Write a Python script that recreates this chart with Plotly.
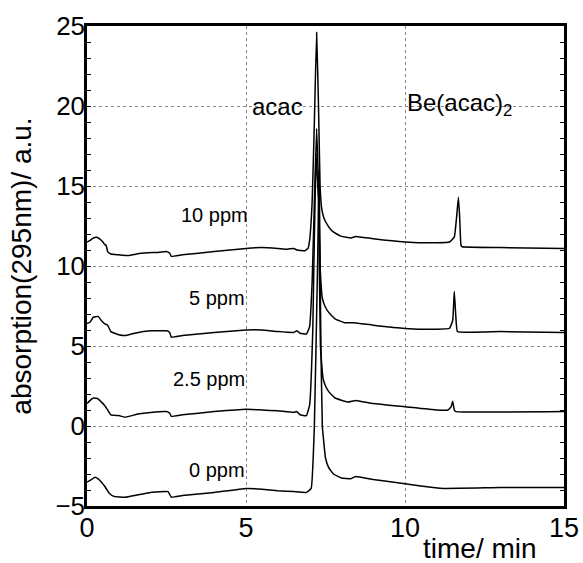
import plotly.graph_objects as go

# retention time (min) / absorption (a.u.)
t_10ppm = [0.0, 0.1, 0.2, 0.3, 0.4, 0.5, 0.55, 0.6, 0.65, 0.75, 1.0, 1.3, 1.7, 2.2, 2.5, 2.6, 2.65,
           3.0, 4.0, 5.0, 5.5, 6.0, 6.3, 6.5, 6.6, 6.85, 6.95, 7.0, 7.08, 7.15, 7.22, 7.28, 7.33,
           7.38, 7.45, 7.55, 7.7, 7.85, 8.0, 8.3, 8.45, 9.0, 10.0, 11.0, 11.4, 11.55, 11.62,
           11.68, 11.72, 11.76, 11.8, 13.0, 15.0]
y_10ppm = [11.5, 11.6, 11.75, 11.8, 11.7, 11.5, 11.35, 11.3, 10.9, 10.75, 10.7, 10.65, 10.8, 10.85,
           10.9, 10.8, 10.6, 10.7, 10.9, 11.1, 11.15, 11.1, 11.05, 11.1, 11.0, 10.95, 11.1, 11.6,
           14.0, 19.0, 24.6, 20.0, 15.0, 13.6, 13.0, 12.6, 12.2, 12.0, 11.85, 11.75, 11.85, 11.7,
           11.5, 11.45, 11.5, 11.8, 13.0, 14.3, 13.0, 11.3, 11.2, 11.15, 11.1]

t_5ppm = [0.0, 0.1, 0.2, 0.35, 0.45, 0.55, 0.65, 0.75, 1.0, 1.2, 1.5, 2.0, 2.5, 2.6, 2.65, 3.0,
          4.0, 5.0, 5.5, 6.0, 6.5, 6.6, 6.7, 6.9, 7.0, 7.08, 7.15, 7.22, 7.28, 7.33, 7.4, 7.48,
          7.6, 7.8, 8.1, 8.4, 9.0, 10.0, 11.0, 11.4, 11.5, 11.55, 11.6, 11.65, 13.0, 15.0]
y_5ppm = [6.4, 6.5, 6.8, 6.85, 6.6, 6.4, 6.3, 5.9, 5.7, 5.65, 5.8, 5.95, 5.95, 5.85, 5.55, 5.65,
          5.85, 6.0, 6.0, 5.9, 5.85, 5.95, 5.8, 5.75, 6.2, 9.0, 14.0, 18.6, 15.0, 10.0, 8.0, 7.5,
          7.1, 6.7, 6.45, 6.45, 6.3, 6.1, 6.05, 6.1, 6.6, 8.4, 6.8, 5.9, 5.9, 5.85]

t_2p5ppm = [0.0, 0.1, 0.2, 0.35, 0.45, 0.55, 0.65, 0.75, 1.0, 1.2, 1.6, 2.0, 2.5, 2.6, 2.65, 3.0,
            4.0, 5.0, 5.5, 6.0, 6.5, 6.6, 6.7, 6.9, 7.0, 7.1, 7.2, 7.28, 7.34, 7.42, 7.5, 7.62,
            7.8, 8.2, 8.45, 9.0, 10.0, 11.0, 11.35, 11.45, 11.5, 11.55, 11.6, 15.0]
y_2p5ppm = [1.4, 1.6, 1.75, 1.7, 1.5, 1.3, 1.0, 0.7, 0.65, 0.55, 0.75, 0.85, 0.9, 0.8, 0.6, 0.7,
            0.9, 1.05, 1.0, 0.95, 0.85, 0.9, 0.7, 0.65, 1.3, 6.0, 17.0, 14.0, 5.0, 3.0, 2.5, 2.1,
            1.75, 1.5, 1.6, 1.4, 1.2, 1.0, 1.0, 1.2, 1.55, 1.0, 0.9, 0.9]

t_0ppm = [0.0, 0.1, 0.25, 0.35, 0.45, 0.55, 0.7, 0.85, 1.2, 1.6, 2.0, 2.55, 2.65, 3.0, 4.0, 5.0,
          5.5, 6.0, 6.5, 6.9, 7.05, 7.15, 7.25, 7.3, 7.35, 7.4, 7.5, 7.6, 7.75, 8.0, 8.3, 8.45,
          9.0, 9.6, 10.5, 11.2, 13.0, 15.0]
y_0ppm = [-3.5, -3.4, -3.2, -3.3, -3.5, -3.75, -4.2, -4.4, -4.45, -4.3, -4.15, -4.1, -4.45, -4.35,
          -4.15, -3.9, -3.95, -4.05, -4.1, -4.15, -3.9, 0.0, 10.0, 16.0, 6.0, 0.0, -2.0, -2.6,
          -3.0, -3.25, -3.3, -3.15, -3.35, -3.5, -3.75, -3.9, -3.85, -3.85]

trace_labels = ["10 ppm", "5 ppm", "2.5 ppm", "0 ppm"]
label_x = [4.0, 4.1, 3.85, 4.1]
label_y = [13.2, 8.0, 2.95, -2.75]

FONT = "Liberation Sans, Arial, sans-serif"

fig = go.Figure()
for t, y in [(t_0ppm, y_0ppm), (t_2p5ppm, y_2p5ppm), (t_5ppm, y_5ppm), (t_10ppm, y_10ppm)]:
    fig.add_trace(go.Scatter(x=t, y=y, mode="lines", line_shape="spline",
                             line=dict(color="black", width=1.5, smoothing=0.3),
                             showlegend=False))

for txt, lx, ly in zip(trace_labels, label_x, label_y):
    fig.add_annotation(x=lx, y=ly, text=txt, showarrow=False,
                       font=dict(family=FONT, size=20, color="black"))

fig.add_annotation(x=6.0, y=20.0, text="acac", showarrow=False,
                   font=dict(family=FONT, size=24, color="black"))
fig.add_annotation(x=11.72, y=20.1, text="Be(acac)<sub>2</sub>", showarrow=False,
                   font=dict(family=FONT, size=24, color="black"))
fig.add_annotation(x=12.36, y=-0.088, xref="x", yref="paper", yanchor="middle",
                   text="time/ min", showarrow=False,
                   font=dict(family=FONT, size=28, color="black"))

fig.update_xaxes(range=[0, 15], tickvals=[0, 5, 10, 15], showgrid=True, automargin=False,
                 gridcolor="#888", griddash="dot", gridwidth=1,
                 showline=True, linecolor="black", linewidth=2.5, mirror=True,
                 ticks="", zeroline=False, ticklabelstandoff=-4,
                 tickfont=dict(family=FONT, size=27, color="black"))
fig.update_yaxes(range=[-5, 25], tickvals=[-5, 0, 5, 10, 15, 20, 25], showgrid=True,
                 automargin=False,
                 gridcolor="#888", griddash="dot", gridwidth=1,
                 showline=True, linecolor="black", linewidth=2.5, mirror="allticks",
                 ticks="inside", ticklen=4, tickcolor="black", zeroline=False,
                 minor=dict(dtick=1, ticks="inside", ticklen=4, tickcolor="black", showgrid=False),
                 ticklabelstandoff=-6,
                 tickfont=dict(family=FONT, size=26, color="black"),
                 title=dict(text="absorption(295nm)/ a.u.", standoff=16,
                            font=dict(family=FONT, size=28, color="black")))

fig.update_layout(width=583, height=563, plot_bgcolor="white", paper_bgcolor="white",
                  margin=dict(l=87, r=19, t=26, b=57))

# the page's default 8px body margin would shift the figure inside the window
fig.write_html("out.html", config={"displayModeBar": False},
               post_script="document.body.style.margin = '0';")
